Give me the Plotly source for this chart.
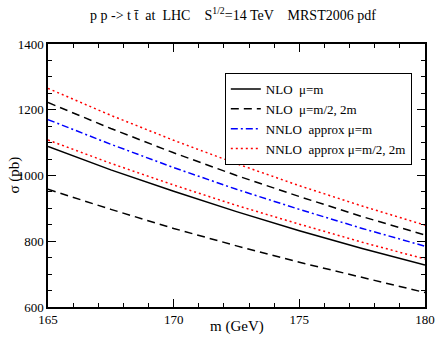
import plotly.graph_objects as go

# top mass (GeV)
mass = [165, 167.5, 170, 172.5, 175, 177.5, 180]

# cross sections (pb)
nlo_central = [1088, 1017, 952, 890, 832, 778, 728]
nlo_upper = [1222, 1143, 1069, 1000, 936, 875, 819]
nlo_lower = [958, 897, 839, 786, 736, 689, 644]
nnlo_central = [1170, 1095, 1024, 958, 897, 839, 785]
nnlo_upper = [1265, 1183, 1107, 1036, 969, 907, 849]
nnlo_lower = [1108, 1037, 971, 909, 852, 797, 746]

font = '"Liberation Serif", "Times New Roman", Times, serif'

fig = go.Figure()

fig.add_trace(go.Scatter(x=mass, y=nlo_central, mode='lines', name='NLO  \u03bc=m',
                         line=dict(color='black', width=1.5)))
fig.add_trace(go.Scatter(x=mass, y=nlo_upper, mode='lines', name='NLO  \u03bc=m/2, 2m',
                         line=dict(color='black', width=1.5, dash='8px,5px'), legendgroup='nlo'))
fig.add_trace(go.Scatter(x=mass, y=nlo_lower, mode='lines', name='NLO  \u03bc=m/2, 2m',
                         line=dict(color='black', width=1.5, dash='8px,5px'), legendgroup='nlo',
                         showlegend=False))
fig.add_trace(go.Scatter(x=mass, y=nnlo_central, mode='lines', name='NNLO  approx \u03bc=m',
                         line=dict(color='blue', width=1.5, dash='7px,3px,2px,3px')))
fig.add_trace(go.Scatter(x=mass, y=nnlo_upper, mode='lines', name='NNLO  approx \u03bc=m/2, 2m',
                         line=dict(color='red', width=1.5, dash='2px,3px'), legendgroup='nnlo'))
fig.add_trace(go.Scatter(x=mass, y=nnlo_lower, mode='lines', name='NNLO  approx \u03bc=m/2, 2m',
                         line=dict(color='red', width=1.5, dash='2px,3px'), legendgroup='nnlo',
                         showlegend=False))

axis_common = dict(showline=True, linecolor='black', linewidth=1.5, mirror='ticks',
                   ticks='inside', tickcolor='black', ticklen=8, tickwidth=1,
                   showgrid=False, zeroline=False, automargin=False,
                   tickfont=dict(family=font, size=13, color='black'))

fig.update_xaxes(range=[165, 180], dtick=5, tick0=165,
                 minor=dict(dtick=1, ticks='inside', ticklen=4, tickcolor='black'),
                 **axis_common)
fig.update_yaxes(range=[600, 1400], dtick=200, tick0=600,
                 minor=dict(dtick=50, ticks='inside', ticklen=4, tickcolor='black'),
                 **axis_common)

fig.update_layout(
    width=436, height=339,
    margin=dict(l=48, r=11, t=44, b=32, autoexpand=False),
    plot_bgcolor='white', paper_bgcolor='white',
    font=dict(family=font, color='black'),
    legend=dict(x=0.469, y=0.89, xanchor='left', yanchor='top',
                bordercolor='black', borderwidth=1, bgcolor='white',
                font=dict(family=font, size=13, color='black'),
                tracegroupgap=0, itemwidth=30),
    annotations=[
        dict(text='p p -> t t\u0304  at  LHC    S<sup>1/2</sup>=14 TeV    MRST2006 pdf',
             xref='paper', yref='paper', x=0.49, y=1.0, yshift=30,
             xanchor='center', yanchor='middle', showarrow=False,
             font=dict(family=font, size=14, color='black')),
        dict(text='m (GeV)', xref='paper', yref='paper', x=0.5, y=0, yshift=-19,
             xanchor='center', yanchor='middle', showarrow=False,
             font=dict(family=font, size=15, color='black')),
        dict(text='\u03c3 (pb)', xref='paper', yref='paper', x=0, y=0.5, xshift=-34,
             xanchor='center', yanchor='middle', showarrow=False, textangle=-90,
             font=dict(family=font, size=15, color='black')),
    ],
)

# drop the default page margin so the figure fills the window exactly
fig.write_html("out.html", config={'displayModeBar': False},
               post_script="document.body.style.margin='0';document.body.style.overflow='hidden';")
